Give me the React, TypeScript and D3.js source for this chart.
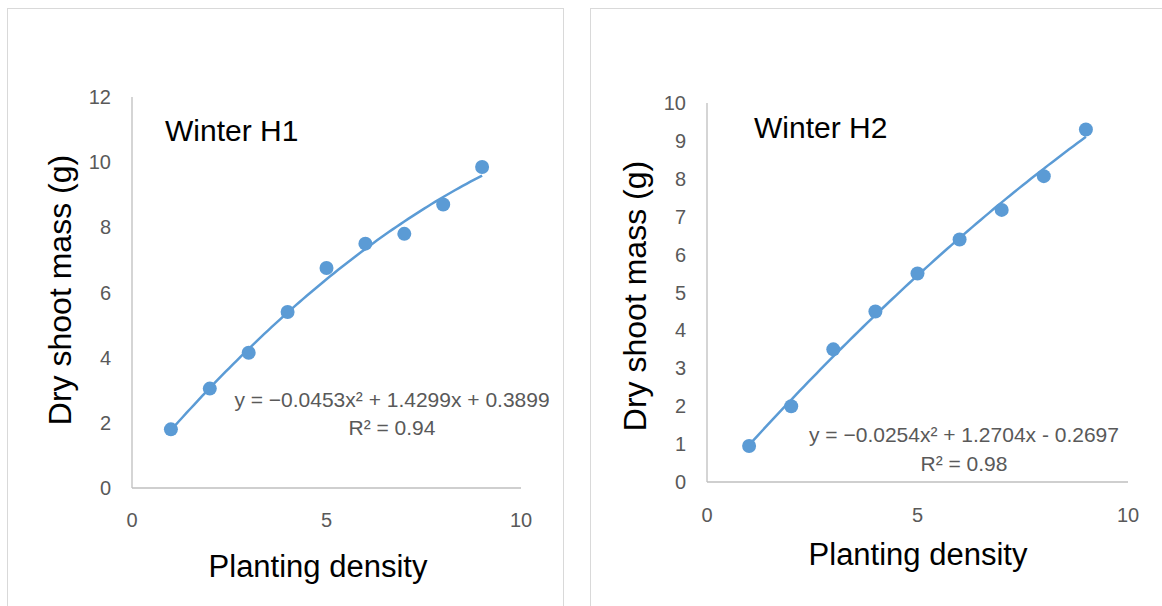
import React, { useEffect, useRef } from "react";
import * as d3 from "d3";

// planting density (x) shared by both panels
const density = [1, 2, 3, 4, 5, 6, 7, 8, 9];

// dry shoot mass
const massH1 = [1.8, 3.05, 4.15, 5.4, 6.75, 7.5, 7.8, 8.7, 9.85];
const massH2 = [0.95, 2.0, 3.5, 4.5, 5.5, 6.4, 7.18, 8.07, 9.3];

// polynomial trendline coefficients as printed on the chart [a, b, c]
const trendH1 = [-0.0453, 1.4299, 0.3899];
const trendH2 = [-0.0254, 1.2704, -0.2697];

const titles = ["Winter H1", "Winter H2"];
const equations = [
  ["y = −0.0453x² + 1.4299x + 0.3899", "R² = 0.94"],
  ["y = −0.0254x² + 1.2704x - 0.2697", "R² = 0.98"],
];
const yTicksH1 = [0, 2, 4, 6, 8, 10, 12];
const yTicksH2 = [0, 1, 2, 3, 4, 5, 6, 7, 8, 9, 10];
const xTicks = [0, 5, 10];

const BLUE = "#5B9BD5";
const GREY_TXT = "#595959";
const FONT = "'Liberation Sans', Arial, sans-serif";

const App = () => {
  const ref = useRef<SVGSVGElement>(null);

  useEffect(() => {
    const svg = d3.select(ref.current);
    svg.selectAll("*").remove();

    const panels = [
      {
        frame: [7, 8, 556, 620],
        x0: 132, x1: 521, y0: 488, y1: 97,
        yMax: 12, yTicks: yTicksH1, data: massH1, trend: trendH1,
        title: titles[0], titleX: 165, titleY: 141,
        eqX: 392, eqY: 407, eqY2: 435,
        yTitleX: 71, yTitleY: 290, xTitleX: 318, xTitleY: 577,
        xLabelY: 527,
        eq: equations[0],
      },
      {
        frame: [590, 8, 600, 620],
        x0: 707, x1: 1128, y0: 482, y1: 103,
        yMax: 10, yTicks: yTicksH2, data: massH2, trend: trendH2,
        title: titles[1], titleX: 754, titleY: 138,
        eqX: 964, eqY: 442, eqY2: 471,
        yTitleX: 646, yTitleY: 296, xTitleX: 918, xTitleY: 565,
        xLabelY: 522,
        eq: equations[1],
      },
    ];

    panels.forEach((p) => {
      const g = svg.append("g");

      g.append("rect")
        .attr("x", p.frame[0] + 0.5)
        .attr("y", p.frame[1] + 0.5)
        .attr("width", p.frame[2])
        .attr("height", p.frame[3])
        .attr("fill", "white")
        .attr("stroke", "#D9D9D9")
        .attr("stroke-width", 1);

      const x = d3.scaleLinear().domain([0, 10]).range([p.x0, p.x1]);
      const y = d3.scaleLinear().domain([0, p.yMax]).range([p.y0, p.y1]);

      // axis lines
      g.append("line")
        .attr("x1", p.x0).attr("x2", p.x0)
        .attr("y1", p.y1).attr("y2", p.y0)
        .attr("stroke", "#BFBFBF").attr("stroke-width", 1.3);
      g.append("line")
        .attr("x1", p.x0).attr("x2", p.x1)
        .attr("y1", p.y0).attr("y2", p.y0)
        .attr("stroke", "#BFBFBF").attr("stroke-width", 1.3);

      g.selectAll(".ytick")
        .data(p.yTicks)
        .enter()
        .append("text")
        .attr("x", p.x0 - 21)
        .attr("y", (d) => y(d))
        .attr("dy", "0.35em")
        .attr("text-anchor", "end")
        .style("font-family", FONT)
        .style("font-size", "20px")
        .attr("fill", GREY_TXT)
        .text((d) => d);

      g.selectAll(".xtick")
        .data(xTicks)
        .enter()
        .append("text")
        .attr("x", (d) => x(d))
        .attr("y", p.xLabelY)
        .attr("text-anchor", "middle")
        .style("font-family", FONT)
        .style("font-size", "20px")
        .attr("fill", GREY_TXT)
        .text((d) => d);

      // trendline from the printed polynomial
      const [a, b, c] = p.trend;
      const curve = d3.range(density[0], density[density.length - 1] + 0.001, 0.1);
      g.append("path")
        .datum(curve)
        .attr("fill", "none")
        .attr("stroke", BLUE)
        .attr("stroke-width", 2.5)
        .attr(
          "d",
          d3
            .line<number>()
            .x((d) => x(d))
            .y((d) => y(a * d * d + b * d + c))
        );

      g.selectAll(".dot")
        .data(p.data)
        .enter()
        .append("circle")
        .attr("cx", (d, i) => x(density[i]))
        .attr("cy", (d) => y(d))
        .attr("r", 7)
        .attr("fill", BLUE);

      g.append("text")
        .attr("x", p.titleX)
        .attr("y", p.titleY)
        .style("font-family", FONT)
        .style("font-size", "30px")
        .attr("fill", "black")
        .text(p.title);

      g.append("text")
        .attr("x", p.eqX)
        .attr("y", p.eqY)
        .attr("text-anchor", "middle")
        .style("font-family", FONT)
        .style("font-size", "21px")
        .attr("fill", GREY_TXT)
        .text(p.eq[0]);
      g.append("text")
        .attr("x", p.eqX)
        .attr("y", p.eqY2)
        .attr("text-anchor", "middle")
        .style("font-family", FONT)
        .style("font-size", "21px")
        .attr("fill", GREY_TXT)
        .text(p.eq[1]);

      g.append("text")
        .attr("transform", "translate(" + p.yTitleX + "," + p.yTitleY + ") rotate(-90)")
        .attr("text-anchor", "middle")
        .style("font-family", FONT)
        .style("font-size", "32px")
        .attr("fill", "black")
        .text("Dry shoot mass (g)");

      g.append("text")
        .attr("x", p.xTitleX)
        .attr("y", p.xTitleY)
        .attr("text-anchor", "middle")
        .style("font-family", FONT)
        .style("font-size", "31px")
        .attr("fill", "black")
        .text("Planting density");
    });
  }, []);

  return (
    <svg
      ref={ref}
      width={1162}
      height={606}
      style={{ position: "absolute", left: 0, top: 0, background: "white" }}
    />
  );
};

export default App;
